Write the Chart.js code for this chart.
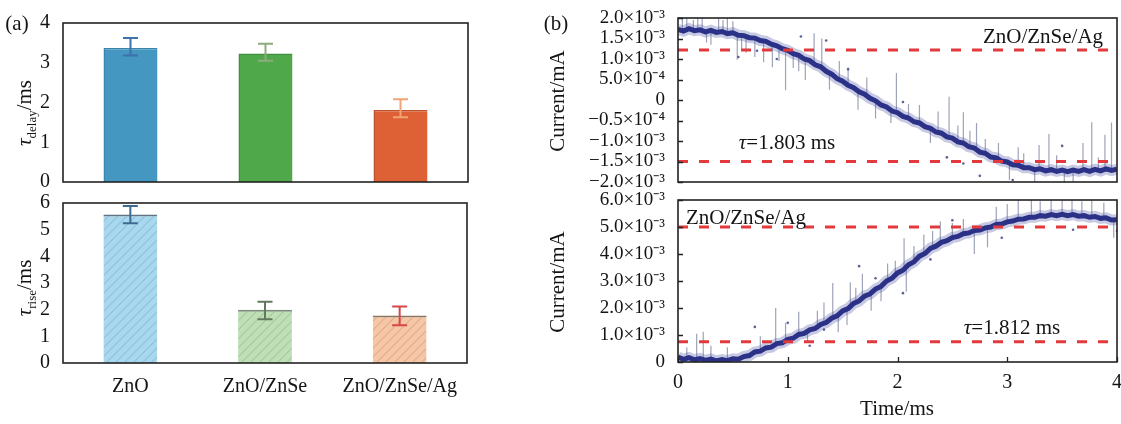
<!DOCTYPE html>
<html>
<head>
<meta charset="utf-8">
<script src="https://cdn.jsdelivr.net/npm/chart.js@4.4.1/dist/chart.umd.min.js"></script>
<style>
html,body{margin:0;padding:0;background:#fff;}
#wrap{position:relative;width:1121px;height:424px;overflow:hidden;font-family:'Liberation Serif','Times New Roman',serif;color:#141414;}
canvas{position:absolute;}
.t{position:absolute;white-space:nowrap;font-size:21px;line-height:1;transform:translate(-50%,-50%);}
.rot{transform:translate(-50%,-50%) rotate(-90deg);}
.sub{font-size:13px;position:relative;top:5px;}
</style>
</head>
<body>
<div id="wrap">
  <canvas id="cA" width="475" height="190" style="left:0;top:0"></canvas>
  <canvas id="cB" width="475" height="234" style="left:0;top:190px"></canvas>
  <canvas id="cC" width="581" height="190" style="left:540px;top:0"></canvas>
  <canvas id="cD" width="581" height="234" style="left:540px;top:190px"></canvas>

  <div class="t" style="left:17px;top:23px">(a)</div>
  <div class="t" style="left:556px;top:23px">(b)</div>
  <div class="t rot" style="left:24px;top:113px"><i>τ</i><span class="sub">delay</span>/ms</div>
  <div class="t rot" style="left:24px;top:288px"><i>τ</i><span class="sub">rise</span>/ms</div>
  <div class="t rot" style="left:557px;top:101px">Current/mA</div>
  <div class="t rot" style="left:557px;top:282px">Current/mA</div>
  <div class="t" style="left:897px;top:408px">Time/ms</div>
  <div class="t" style="left:1043px;top:36px">ZnO/ZnSe/Ag</div>
  <div class="t" style="left:787px;top:142px"><i>τ</i>=1.803 ms</div>
  <div class="t" style="left:746px;top:217px">ZnO/ZnSe/Ag</div>
  <div class="t" style="left:1012px;top:327px"><i>τ</i>=1.812 ms</div>
</div>
<script>
// ---------------- DATA ----------------
const categories = ['ZnO', 'ZnO/ZnSe', 'ZnO/ZnSe/Ag'];
const delayTicks = [0, 1, 2, 3, 4];
const tauDelay = [3.37, 3.23, 1.81];
const tauDelayErrLow = [3.18, 3.05, 1.63];
const tauDelayErrHigh = [3.62, 3.48, 2.08];
const riseTicks = [0, 1, 2, 3, 4, 5, 6];
const tauRise = [5.57, 2.00, 1.78];
const tauRiseErrLow = [5.24, 1.64, 1.42];
const tauRiseErrHigh = [5.89, 2.30, 2.12];

// time axis (ms)
const timeTicks = [0, 1, 2, 3, 4];
const time = [0.00,0.05,0.10,0.15,0.20,0.25,0.30,0.35,0.40,0.45,0.50,0.55,0.60,0.65,0.70,0.75,0.80,0.85,0.90,0.95,
  1.00,1.05,1.10,1.15,1.20,1.25,1.30,1.35,1.40,1.45,1.50,1.55,1.60,1.65,1.70,1.75,1.80,1.85,1.90,1.95,
  2.00,2.05,2.10,2.15,2.20,2.25,2.30,2.35,2.40,2.45,2.50,2.55,2.60,2.65,2.70,2.75,2.80,2.85,2.90,2.95,
  3.00,3.05,3.10,3.15,3.20,3.25,3.30,3.35,3.40,3.45,3.50,3.55,3.60,3.65,3.70,3.75,3.80,3.85,3.90,3.95,4.00];

// decay current, in units of 10^-3 mA
const decayCurrent = [1.72,1.68,1.74,1.69,1.71,1.66,1.70,1.65,1.67,1.62,1.64,1.58,1.57,1.52,1.51,1.45,1.43,1.36,1.32,1.25,
  1.21,1.13,1.09,1.00,0.96,0.86,0.81,0.70,0.63,0.52,0.46,0.36,0.30,0.20,0.14,0.04,-0.02,-0.12,-0.17,-0.27,
  -0.31,-0.40,-0.44,-0.53,-0.56,-0.65,-0.69,-0.78,-0.81,-0.90,-0.93,-1.02,-1.05,-1.14,-1.17,-1.27,-1.30,-1.39,-1.41,-1.49,
  -1.51,-1.58,-1.59,-1.65,-1.65,-1.70,-1.68,-1.73,-1.70,-1.74,-1.71,-1.75,-1.71,-1.74,-1.70,-1.74,-1.69,-1.73,-1.68,-1.72,-1.69];
const decaySpikeTime = [0.08,0.14,0.22,0.30,0.37,0.45,0.54,0.62,0.78,0.86,0.98,1.05,1.16,1.24,1.31,1.47,1.64,1.72,1.94,1.99,
  2.20,2.37,2.47,2.60,2.72,2.92,3.10,3.25,3.29,3.38,3.60,3.69,3.77,3.89,3.95,
  0.04,0.18,0.26,0.41,0.50,0.58,0.70,0.92,1.10,1.38,1.55,1.80,2.10,2.30,2.55,2.66,2.80,3.02,3.15,3.45,3.52,3.83];
const decaySpikeFrom = [1.72,1.70,1.70,1.70,1.66,1.62,1.60,1.56,1.44,1.36,1.22,1.13,1.00,0.88,0.80,0.50,0.22,0.10,-0.25,-0.30,
  -0.56,-0.78,-0.90,-1.05,-1.20,-1.44,-1.59,-1.70,-1.68,-1.72,-1.71,-1.72,-1.73,-1.70,-1.72,
  1.70,1.70,1.66,1.65,1.64,1.58,1.51,1.30,1.09,0.66,0.36,-0.02,-0.44,-0.69,-1.02,-1.14,-1.30,-1.53,-1.65,-1.74,-1.71,-1.72];
const decaySpikeTo = [2.00,1.95,2.00,1.35,1.98,2.00,0.98,1.15,0.92,0.80,0.24,0.78,0.49,1.63,1.50,0.95,-0.24,0.55,-0.56,0.66,
  -0.12,-0.28,0.08,-0.30,-0.56,-1.05,-1.15,-2.00,-1.10,-0.83,-2.00,-1.05,-0.54,-0.85,-0.55,
  1.98,2.00,1.40,1.95,1.92,1.25,1.05,0.95,0.70,0.25,0.80,-0.45,-0.10,-1.05,-0.62,-0.75,-0.95,-1.95,-1.30,-1.35,-2.00,-1.40];
const decayDotTime = [0.55,0.72,0.90,1.12,1.35,1.55,2.05,2.45,2.60,2.75,3.05,3.50];
const decayDotCurrent = [1.05,1.20,1.00,1.55,1.45,0.75,-0.05,-1.40,-1.55,-1.85,-1.95,-1.12];
const decayLevels = [1.22, -1.50];
const decayTickValues = [-2, -1.5, -1, -0.5, 0, 0.5, 1, 1.5, 2];
const decayTickLabels = ['\u22122.0\u00d710\u207b\u00b3', '\u22121.5\u00d710\u207b\u00b3', '\u22121.0\u00d710\u207b\u00b3', '\u22120.5\u00d710\u207b\u2074',
  '0', '5.0\u00d710\u207b\u2074', '1.0\u00d710\u207b\u00b3', '1.5\u00d710\u207b\u00b3', '2.0\u00d710\u207b\u00b3'];

// rise current, in units of 10^-3 mA
const riseCurrent = [0.18,0.10,0.16,0.08,0.13,0.06,0.11,0.04,0.09,0.05,0.12,0.10,0.20,0.24,0.37,0.40,0.52,0.55,0.68,0.71,
  0.84,0.88,1.02,1.06,1.19,1.24,1.39,1.46,1.62,1.71,1.89,1.98,2.17,2.26,2.44,2.52,2.70,2.80,3.00,3.10,
  3.30,3.40,3.60,3.71,3.92,4.02,4.21,4.29,4.43,4.49,4.61,4.65,4.75,4.78,4.87,4.89,4.97,5.00,5.09,5.11,
  5.19,5.22,5.29,5.30,5.36,5.36,5.42,5.40,5.46,5.42,5.47,5.42,5.46,5.40,5.42,5.36,5.39,5.32,5.34,5.26,5.27];
const riseSpikeTime = [0.17,0.23,0.45,0.89,1.10,1.27,1.41,1.46,1.54,1.57,1.68,1.76,1.91,2.06,2.08,2.24,2.39,2.70,2.82,3.10,3.22,3.40,3.59,3.77,3.97,
  0.08,0.30,0.55,0.75,0.98,1.18,1.33,1.62,1.85,1.98,2.15,2.32,2.50,2.60,2.90,3.00,3.30,3.50,3.68,3.88];
const riseSpikeFrom = [0.10,0.10,0.06,0.66,1.02,1.30,1.62,1.75,1.96,2.05,2.38,2.55,3.02,3.42,3.48,4.00,4.40,4.86,4.98,5.29,5.36,5.45,5.45,5.38,5.27,
  0.10,0.11,0.10,0.40,0.80,1.15,1.45,2.20,2.80,3.20,3.71,4.25,4.61,4.75,5.09,5.19,5.42,5.47,5.42,5.33];
const riseSpikeTo = [1.05,1.12,0.55,2.00,1.86,1.90,2.93,1.10,1.37,2.95,3.27,1.90,3.65,4.58,2.60,4.72,5.20,4.00,4.25,6.00,6.00,6.00,6.00,6.00,4.60,
  0.55,0.60,0.00,0.95,1.45,0.70,2.20,2.75,2.25,3.75,4.30,4.85,5.15,5.30,5.75,5.85,5.95,6.00,5.95,5.90];
const riseDotTime = [0.70,1.00,1.33,1.65,1.80,2.05,2.30,2.50,2.95,3.60,4.00,1.20];
const riseDotCurrent = [1.30,1.45,1.20,3.55,3.10,2.55,3.80,5.25,4.60,4.90,4.85,0.60];
const riseLevels = [5.00, 0.75];
const riseTickValues = [0, 1, 2, 3, 4, 5, 6];
const riseTickLabels = ['0', '1.0\u00d710\u207b\u00b3', '2.0\u00d710\u207b\u00b3', '3.0\u00d710\u207b\u00b3', '4.0\u00d710\u207b\u00b3', '5.0\u00d710\u207b\u00b3', '6.0\u00d710\u207b\u00b3'];

// ---------------- STYLE / HELPERS ----------------
const F = "'Liberation Serif', 'Times New Roman', serif";
const INK = '#141414';

function hatch(bg, line) {
  const c = document.createElement('canvas'); c.width = 9; c.height = 9;
  const g = c.getContext('2d');
  g.fillStyle = bg; g.fillRect(0, 0, 9, 9);
  g.strokeStyle = line; g.lineWidth = 1.1;
  g.beginPath();
  g.moveTo(0, 9); g.lineTo(9, 0);
  g.moveTo(-1, 1); g.lineTo(1, -1);
  g.moveTo(8, 10); g.lineTo(10, 8);
  g.stroke();
  return g.createPattern(c, 'repeat');
}

const framePlugin = {
  id: 'frame',
  afterDatasetsDraw(chart) {
    const { ctx, chartArea: a } = chart;
    ctx.save();
    ctx.strokeStyle = '#222';
    ctx.lineWidth = 1.6;
    ctx.strokeRect(a.left, a.top, a.right - a.left, a.bottom - a.top);
    ctx.restore();
  }
};

const inTicksPlugin = {
  id: 'inTicks',
  afterDatasetsDraw(chart, args, opts) {
    if (!opts || !opts.on) return;
    const { ctx, chartArea: a, scales } = chart;
    ctx.save();
    ctx.strokeStyle = '#222';
    ctx.lineWidth = 1.3;
    ctx.beginPath();
    scales.y.ticks.forEach(t => {
      const y = Math.round(scales.y.getPixelForValue(t.value)) + 0.5;
      ctx.moveTo(a.left, y); ctx.lineTo(a.left + 5, y);
    });
    if (opts.x) {
      scales.x.ticks.forEach(t => {
        const x = Math.round(scales.x.getPixelForValue(t.value)) + 0.5;
        ctx.moveTo(x, a.bottom); ctx.lineTo(x, a.bottom - 5);
      });
    }
    ctx.stroke();
    ctx.restore();
  }
};

const errBarPlugin = {
  id: 'errBars',
  afterDatasetsDraw(chart, args, opts) {
    if (!opts || !opts.low) return;
    const { ctx, scales } = chart;
    const meta = chart.getDatasetMeta(0);
    ctx.save();
    ctx.lineWidth = 2;
    meta.data.forEach((bar, i) => {
      const x = bar.x;
      const y1 = scales.y.getPixelForValue(opts.low[i]);
      const y2 = scales.y.getPixelForValue(opts.high[i]);
      ctx.strokeStyle = opts.colors[i];
      ctx.beginPath();
      ctx.moveTo(x, y1); ctx.lineTo(x, y2);
      ctx.moveTo(x - 7.5, y1); ctx.lineTo(x + 7.5, y1);
      ctx.moveTo(x - 7.5, y2); ctx.lineTo(x + 7.5, y2);
      ctx.stroke();
    });
    ctx.restore();
  }
};

function yAxis(ticksArr, width, size, labels) {
  return {
    type: 'linear', min: ticksArr[0], max: ticksArr[ticksArr.length - 1],
    grid: { display: false, drawTicks: false }, border: { display: false },
    afterBuildTicks: s => { s.ticks = ticksArr.map(v => ({ value: v })); },
    ticks: {
      font: { family: F, size: size }, color: INK, padding: 13, autoSkip: false,
      callback: (v, i) => labels ? labels[i] : String(v)
    },
    afterFit: s => { s.width = width; s.paddingTop = 0; s.paddingBottom = 0; }
  };
}
function xHidden(extra) {
  return Object.assign({
    display: false, ticks: { display: false },
    afterFit: s => { s.height = 0; s.paddingLeft = 0; s.paddingRight = 0; }
  }, extra || {});
}

// ---------------- CHART A: tau delay ----------------
new Chart(document.getElementById('cA'), {
  type: 'bar',
  data: {
    labels: categories,
    datasets: [{
      data: tauDelay,
      backgroundColor: ['#4497c1', '#4fa94b', '#dd6134'],
      borderColor: ['#3a85ad', '#3f8f3d', '#bf5028'],
      borderWidth: { top: 1.5, left: 1.5, right: 0, bottom: 0 },
      borderSkipped: false,
      barPercentage: 0.4, categoryPercentage: 1
    }]
  },
  options: {
    responsive: false, animation: false, events: [],
    layout: { padding: { top: 23, right: 7, bottom: 8, left: 0 } },
    plugins: {
      legend: { display: false }, tooltip: { enabled: false },
      errBars: { low: tauDelayErrLow, high: tauDelayErrHigh, colors: ['#3d72ad', '#8dab7e', '#f2a474'] }
    },
    scales: {
      x: xHidden(),
      y: yAxis(delayTicks, 63, 20, null)
    }
  },
  plugins: [framePlugin, errBarPlugin]
});

// ---------------- CHART B: tau rise ----------------
new Chart(document.getElementById('cB'), {
  type: 'bar',
  data: {
    labels: categories,
    datasets: [{
      data: tauRise,
      backgroundColor: [hatch('#a9d8ee', '#8cc2de'), hatch('#bfe0b7', '#a4c99b'), hatch('#f5c7a6', '#e2ac8a')],
      borderColor: ['#5f7384', '#7b8c7a', '#8c7462'],
      borderWidth: { top: 2, left: 0, right: 0, bottom: 0 },
      borderSkipped: false,
      barPercentage: 0.4, categoryPercentage: 1
    }]
  },
  options: {
    responsive: false, animation: false, events: [],
    layout: { padding: { top: 13, right: 8, bottom: 0, left: 0 } },
    plugins: {
      legend: { display: false }, tooltip: { enabled: false },
      errBars: { low: tauRiseErrLow, high: tauRiseErrHigh, colors: ['#3e6b92', '#61795f', '#d8474a'] }
    },
    scales: {
      x: {
        grid: { display: false, drawTicks: false }, border: { display: false },
        ticks: { font: { family: F, size: 20 }, color: INK, padding: 12, maxRotation: 0, autoSkip: false },
        afterFit: s => { s.height = 61; s.paddingLeft = 0; s.paddingRight = 0; }
      },
      y: yAxis(riseTicks, 63, 20, null)
    }
  },
  plugins: [framePlugin, errBarPlugin]
});

// ---------------- right panels ----------------
function pts(xs, ys) { return xs.map((x, i) => ({ x: x, y: ys[i] })); }
function spikePts(ts, from, to) {
  const out = [];
  ts.forEach((t, i) => { out.push({ x: t, y: from[i] }, { x: t, y: to[i] }, { x: t, y: null }); });
  return out;
}
function levelSet(v) {
  return {
    data: [{ x: timeTicks[0], y: v }, { x: timeTicks[timeTicks.length - 1], y: v }],
    borderColor: '#e23a3c', borderWidth: 2.8, borderDash: [10, 11], pointRadius: 0, fill: false
  };
}
function tracePanel(id, series, spT, spF, spTo, dT, dV, levels, yTicks, yLabels, showX, pad) {
  const datasets = [
    levelSet(levels[0]), levelSet(levels[1]),
    { data: pts(time, series), borderColor: '#2a3187', borderWidth: 5, pointRadius: 0, tension: 0, fill: false },
    { data: pts(time, series), borderColor: 'rgba(70,80,160,0.3)', borderWidth: 11, pointRadius: 0, tension: 0, fill: false },
    { data: pts(dT, dV), showLine: false, pointRadius: 1.3, pointBackgroundColor: '#5a6298', pointBorderWidth: 0 },
    { data: spikePts(spT, spF, spTo), borderColor: 'rgba(125,132,160,0.75)', borderWidth: 1.2, pointRadius: 0, spanGaps: false, fill: false }
  ];
  const xBase = {
    type: 'linear', min: timeTicks[0], max: timeTicks[timeTicks.length - 1],
    afterBuildTicks: s => { s.ticks = timeTicks.map(v => ({ value: v })); }
  };
  const xAxis = showX ? Object.assign(xBase, {
    grid: { display: false, drawTicks: false }, border: { display: false },
    ticks: { font: { family: F, size: 20 }, color: INK, padding: 9, autoSkip: false, maxRotation: 0 },
    afterFit: s => { s.height = 62; s.paddingLeft = 0; s.paddingRight = 0; }
  }) : xHidden(xBase);
  new Chart(document.getElementById(id), {
    type: 'line',
    data: { datasets: datasets },
    options: {
      responsive: false, animation: false, events: [],
      layout: { padding: pad },
      plugins: { legend: { display: false }, tooltip: { enabled: false }, inTicks: { on: true, x: showX } },
      scales: { x: xAxis, y: yAxis(yTicks, 138, 19, yLabels) }
    },
    plugins: [framePlugin, inTicksPlugin]
  });
}

tracePanel('cC', decayCurrent, decaySpikeTime, decaySpikeFrom, decaySpikeTo, decayDotTime, decayDotCurrent,
  decayLevels, decayTickValues, decayTickLabels, false, { top: 18, right: 4, bottom: 8, left: 0 });
tracePanel('cD', riseCurrent, riseSpikeTime, riseSpikeFrom, riseSpikeTo, riseDotTime, riseDotCurrent,
  riseLevels, riseTickValues, riseTickLabels, true, { top: 10, right: 4, bottom: 0, left: 0 });
</script>
</body>
</html>
